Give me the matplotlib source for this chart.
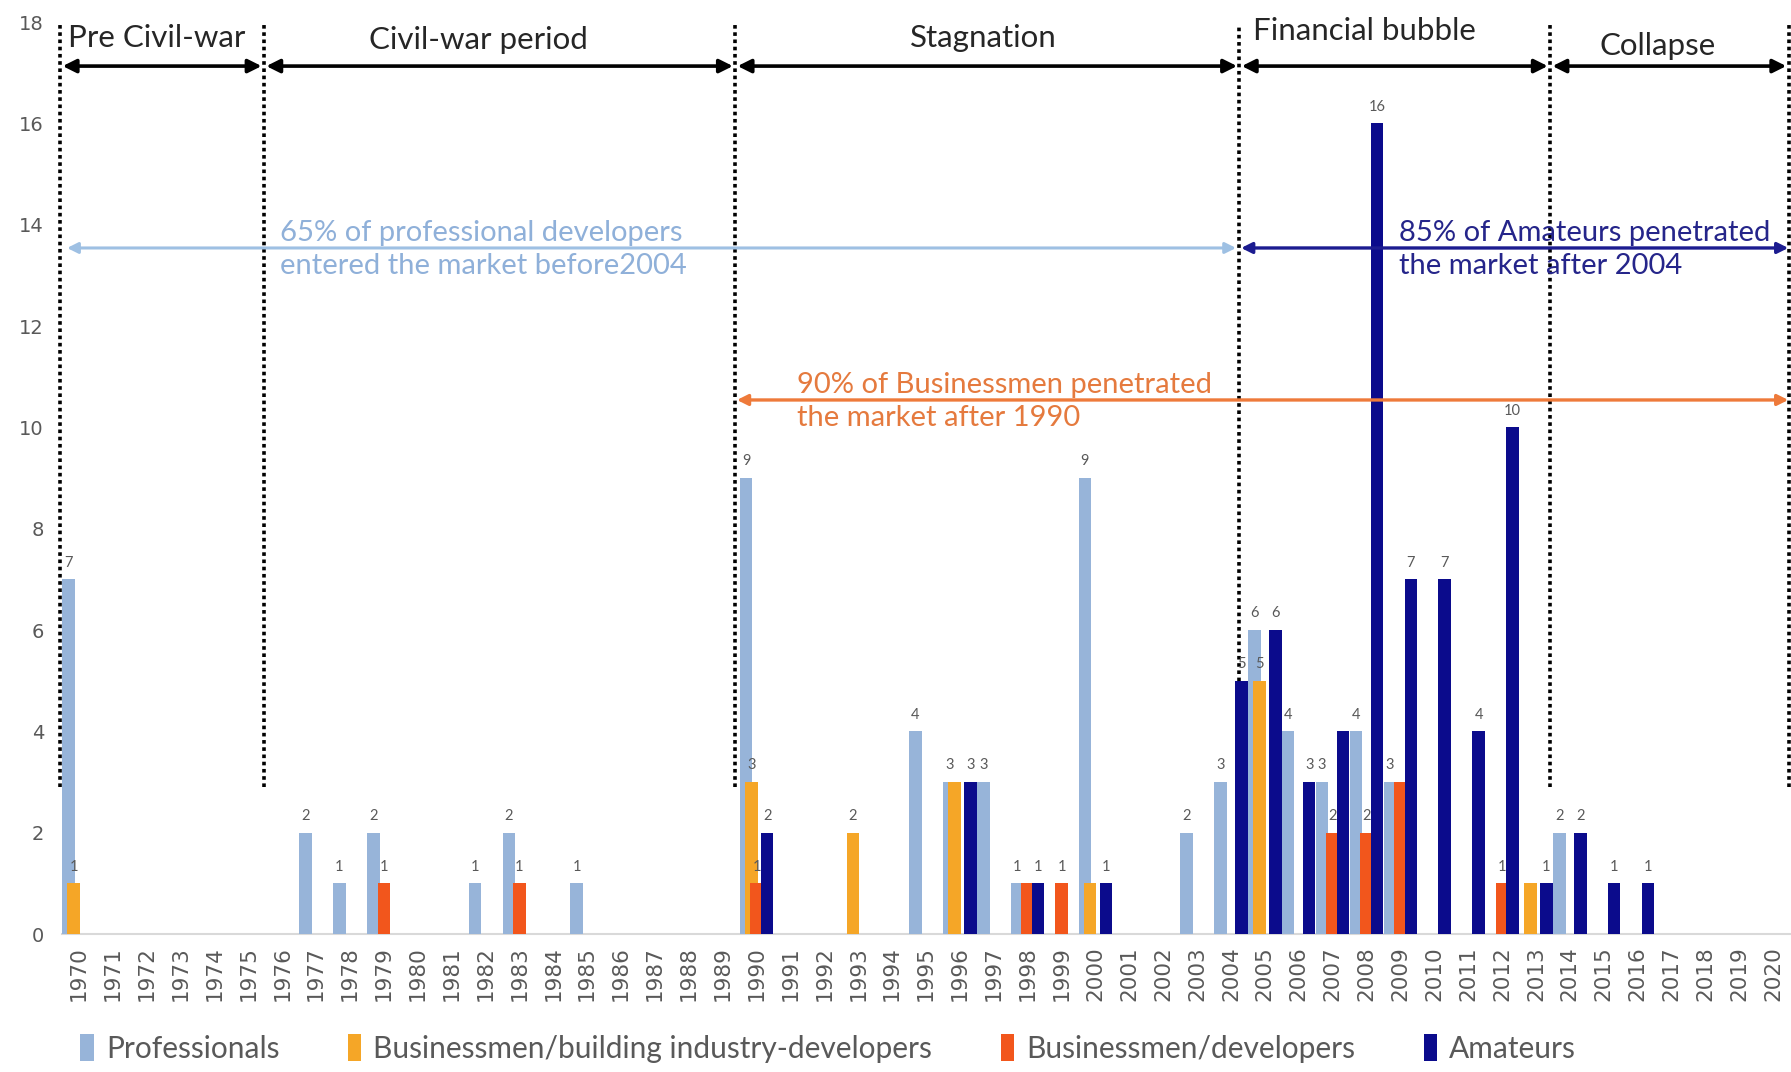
import numpy as np
import matplotlib
matplotlib.use("Agg")
import matplotlib.pyplot as plt
from matplotlib.patches import Patch

# ---- data -------------------------------------------------------------
years = list(range(1970, 2021))

series_names = [
    "Professionals",
    "Businessmen/building industry-developers",
    "Businessmen/developers",
    "Amateurs",
]

professionals = {1970: 7, 1977: 2, 1978: 1, 1979: 2, 1982: 1, 1983: 2, 1985: 1,
                 1990: 9, 1995: 4, 1996: 3, 1997: 3, 1998: 1, 2000: 9, 2003: 2,
                 2004: 3, 2005: 6, 2006: 4, 2007: 3, 2008: 4, 2009: 3, 2014: 2}
building_developers = {1970: 1, 1990: 3, 1993: 2, 1996: 3, 2000: 1, 2005: 5, 2013: 1}
businessmen_developers = {1979: 1, 1983: 1, 1990: 1, 1998: 1, 1999: 1,
                          2007: 2, 2008: 2, 2009: 3, 2012: 1}
amateurs = {1990: 2, 1996: 3, 1998: 1, 2000: 1, 2004: 5, 2005: 6, 2006: 3,
            2007: 4, 2008: 16, 2009: 7, 2010: 7, 2011: 4, 2012: 10, 2013: 1,
            2014: 2, 2015: 1, 2016: 1}

# value labels that are left off (they sit under neighbouring labels)
unlabelled = {1: {1996, 2000, 2013}, 2: {1998, 2009}, 3: {2007}}

periods = ["Pre Civil-war", "Civil-war period", "Stagnation", "Financial bubble", "Collapse"]
period_bounds = [1969.45, 1975.46, 1989.37, 2004.25, 2013.42, 2020.46]
period_label_x = [1972.3, 1981.8, 1996.7, 2007.95, 2016.6]
period_label_y = [17.69, 17.65, 17.69, 17.83, 17.53]

notes = [
    "65% of professional developers\nentered the market before2004",
    "85% of Amateurs penetrated\nthe market after 2004",
    "90% of Businessmen penetrated\nthe market after 1990",
]

# ---- style ------------------------------------------------------------
colors = ["#97B4D9", "#F5A627", "#F2561C", "#0B0B8C"]
note_colors = ["#8FB0D9", "#25258A", "#E57A3E"]
arrow_colors = ["#9EC0E3", "#1C1C90", "#EE7A3A"]
grey = "#595959"
LABEL_FONT = "Lato"

fig = plt.figure(figsize=(17.91, 10.72), dpi=100)
ax = fig.add_axes([62 / 1791, 1 - 934 / 1072, (1790 - 62) / 1791, (934 - 22) / 1072])

x = np.array(years, dtype=float)
step = 0.155
offsets = [-2 * step, -step, 0.0, 2 * step]
width = 0.37

all_series = [professionals, building_developers, businessmen_developers, amateurs]
for i, (data, color, off) in enumerate(zip(all_series, colors, offsets)):
    vals = np.array([data.get(y, 0) for y in years], dtype=float)
    bars = ax.bar(x + off, vals, width=width, color=color, zorder=3 + i,
                  label=series_names[i])
    labels = []
    for y, v in zip(years, vals):
        if v > 0 and y not in unlabelled.get(i, set()):
            labels.append(f"{int(v)}")
        else:
            labels.append("")
    ax.bar_label(bars, labels=labels, padding=7, color=grey, fontsize=10.5,
                 fontfamily=LABEL_FONT, zorder=10)

ax.set_xlim(1969.5, 2020.5)
ax.set_ylim(0, 18)
ax.set_xticks(years)
ax.set_xticklabels([str(y) for y in years], rotation=90, fontsize=15.5,
                   color=grey, fontfamily="DejaVu Sans")
ax.set_yticks(range(0, 19, 2))
ax.set_yticklabels([str(v) for v in range(0, 19, 2)], fontsize=14,
                   color=grey, fontfamily="DejaVu Sans")
ax.tick_params(axis="both", length=0)
ax.tick_params(axis="x", pad=9)
ax.tick_params(axis="y", pad=13)
for side in ["left", "right", "top"]:
    ax.spines[side].set_visible(False)
ax.spines["bottom"].set_color("#D9D9D9")
ax.spines["bottom"].set_linewidth(1.5)

# period boundaries
for k, xb in enumerate(period_bounds):
    bottom = 0.0 if k == 3 else 2.9
    ax.plot([xb, xb], [bottom, 17.95], color="black", lw=2.6,
            linestyle=(0, (1, 1)), zorder=2, clip_on=False)

# period arrows and names
gap = 0.07
for k, name in enumerate(periods):
    x0 = period_bounds[k] + gap
    x1 = period_bounds[k + 1] - gap
    ax.annotate("", xy=(x1, 17.13), xytext=(x0, 17.13),
                arrowprops=dict(arrowstyle="<|-|>", color="black", lw=2.6,
                                mutation_scale=20, shrinkA=0, shrinkB=0),
                zorder=9, annotation_clip=False)
    ax.text(period_label_x[k], period_label_y[k], name, ha="center", va="center",
            fontsize=22.5, color="#262626", fontfamily=LABEL_FONT)

# share annotations
ax.annotate("", xy=(2004.15, 13.54), xytext=(1969.65, 13.54),
            arrowprops=dict(arrowstyle="<|-|>", color=arrow_colors[0], lw=2.2,
                            mutation_scale=16, shrinkA=0, shrinkB=0), zorder=9)
ax.annotate("", xy=(2020.45, 13.54), xytext=(2004.3, 13.54),
            arrowprops=dict(arrowstyle="<|-|>", color=arrow_colors[1], lw=2.4,
                            mutation_scale=16, shrinkA=0, shrinkB=0), zorder=9,
            annotation_clip=False)
ax.annotate("", xy=(2020.45, 10.54), xytext=(1989.42, 10.54),
            arrowprops=dict(arrowstyle="<|-|>", color=arrow_colors[2], lw=2.4,
                            mutation_scale=16, shrinkA=0, shrinkB=0), zorder=9,
            annotation_clip=False)

note_kw = dict(ha="left", va="center", fontsize=21, fontfamily=LABEL_FONT,
               linespacing=1.35, zorder=11)
ax.text(1975.93, 13.51, notes[0], color=note_colors[0], **note_kw)
ax.text(2008.96, 13.51, notes[1], color=note_colors[1], **note_kw)
ax.text(1991.19, 10.51, notes[2], color=note_colors[2], **note_kw)

handles = [Patch(facecolor=c, edgecolor="none") for c in colors]
fig.legend(handles, series_names, loc="center", bbox_to_anchor=(0.4625, 0.022),
           ncol=4, frameon=False, handlelength=0.45, handleheight=1.0,
           handletextpad=0.4, columnspacing=2.3,
           prop={"family": LABEL_FONT, "size": 21.5}, labelcolor=grey)

fig.savefig("out.png", dpi=100)
